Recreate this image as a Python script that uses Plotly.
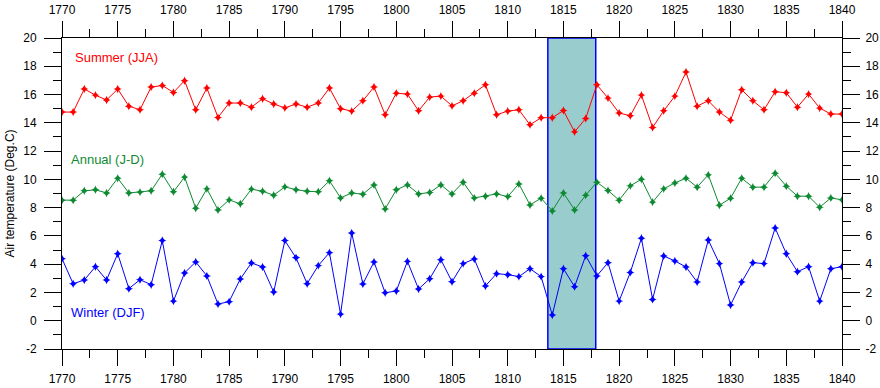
import plotly.graph_objects as go

years = list(range(1770, 1841))

summer = [14.76, 14.76, 16.39, 15.96, 15.61, 16.39, 15.18, 14.92, 16.53, 16.64,
          16.15, 16.98, 14.92, 16.46, 14.38, 15.40, 15.40, 15.11, 15.70, 15.33,
          15.06, 15.33, 15.11, 15.40, 16.46, 15.00, 14.83, 15.56, 16.53, 14.57,
          16.10, 16.03, 14.85, 15.82, 15.89, 15.20, 15.56, 16.10, 16.69, 14.57,
          14.83, 14.92, 13.86, 14.36, 14.36, 14.87, 13.36, 14.31, 16.69, 15.75,
          14.69, 14.50, 15.96, 13.67, 14.85, 15.89, 17.59, 15.18, 15.56, 14.76,
          14.19, 16.34, 15.56, 14.92, 16.20, 16.13, 15.11, 16.03, 15.04, 14.62,
          14.62]

annual = [8.53, 8.53, 9.19, 9.26, 9.04, 10.08, 9.04, 9.10, 9.19, 10.37,
          9.12, 10.16, 7.96, 9.33, 7.84, 8.55, 8.27, 9.31, 9.16, 8.88,
          9.47, 9.27, 9.16, 9.12, 9.90, 8.69, 9.04, 8.95, 9.61, 7.91,
          9.26, 9.61, 8.97, 9.07, 9.61, 8.97, 9.80, 8.69, 8.81, 8.97,
          8.78, 9.68, 8.19, 8.67, 7.77, 9.04, 7.84, 8.88, 9.80, 9.21,
          8.53, 9.54, 10.01, 8.39, 9.33, 9.75, 10.08, 9.45, 10.32, 8.17,
          8.67, 10.08, 9.45, 9.45, 10.44, 9.52, 8.81, 8.81, 8.03, 8.69,
          8.55]

winter = [4.39, 2.62, 2.88, 3.82, 2.88, 4.74, 2.27, 2.90, 2.55, 5.67,
          1.39, 3.38, 4.16, 3.17, 1.18, 1.35, 2.95, 4.09, 3.80, 2.03,
          5.67, 4.45, 2.62, 3.90, 4.82, 0.47, 6.21, 2.60, 4.16, 1.98,
          2.10, 4.20, 2.24, 2.97, 4.32, 2.76, 4.04, 4.37, 2.46, 3.33,
          3.26, 3.12, 3.68, 3.12, 0.40, 3.68, 2.41, 4.60, 3.17, 4.11,
          1.39, 3.42, 5.83, 1.51, 4.58, 4.23, 3.80, 2.74, 5.71, 4.04,
          1.11, 2.74, 4.11, 4.04, 6.56, 4.74, 3.47, 3.82, 1.39, 3.68,
          3.82]

x_ticks = [1770, 1775, 1780, 1785, 1790, 1795, 1800, 1805, 1810, 1815,
           1820, 1825, 1830, 1835, 1840]
y_ticks = [-2, 0, 2, 4, 6, 8, 10, 12, 14, 16, 18, 20]
y_tick_labels = ["-2", "0", "2", "4", "6", "8", "10", "12", "14", "16", "18", "20"]
x_range = [1770, 1840]
y_range = [-2, 20]
shade_years = [1813.6, 1817.9]

series = [
    ("Summer (JJA)", summer, "#FF0000", 1770.95, 18.63),
    ("Annual (J-D)", annual, "#0E8A32", 1770.65, 11.43),
    ("Winter (DJF)", winter, "#0000FF", 1770.6, 0.55),
]

FONT = "Liberation Sans, Arial, sans-serif"

fig = go.Figure()
annotations = []
for name, vals, color, lx, ly in series:
    fig.add_trace(go.Scatter(
        x=years, y=vals, mode="lines+markers", name=name,
        line=dict(color=color, width=1),
        marker=dict(symbol="star-diamond", size=6, color=color, line=dict(width=0)),
        showlegend=False, hoverinfo="x+y",
    ))
    annotations.append(dict(
        x=lx, y=ly, xref="x", yref="y", text=name, showarrow=False,
        xanchor="left", yanchor="middle",
        font=dict(family=FONT, size=13, color=color),
    ))

# dummy trace to activate the mirrored axes with labels
fig.add_trace(go.Scatter(x=x_range, y=y_range, xaxis="x2", yaxis="y2",
                         mode="markers", marker=dict(opacity=0),
                         showlegend=False, hoverinfo="skip"))

annotations.append(dict(
    x=0, y=0.5, xref="paper", yref="paper", text="Air temperature (Deg.C)",
    showarrow=False, textangle=-90, xanchor="center", yanchor="middle",
    xshift=-53, font=dict(family=FONT, size=12, color="black"),
))

fig.add_shape(type="rect", xref="x", yref="y",
              x0=shade_years[0], x1=shade_years[1], y0=y_range[0], y1=y_range[1],
              fillcolor="#99CCCC", line=dict(color="#0000FF", width=1.5),
              layer="below")

axis_common = dict(
    showgrid=False, zeroline=False, showline=True, linecolor="black",
    linewidth=1, ticks="outside", tickcolor="black", tickwidth=1,
    automargin=False,
    tickfont=dict(family=FONT, size=12, color="black"),
)

xminor = dict(dtick=2.5, tick0=1770, ticks="outside", ticklen=8,
              tickcolor="black", tickwidth=1)
yminor = dict(dtick=1, tick0=0, ticks="outside", ticklen=8,
              tickcolor="black", tickwidth=1)

fig.update_layout(
    width=880, height=388,
    margin=dict(l=62, r=38, t=38, b=39, autoexpand=False),
    paper_bgcolor="white", plot_bgcolor="white",
    font=dict(family=FONT, size=12, color="black"),
    xaxis=dict(range=x_range, tickvals=x_ticks, ticklen=16, minor=xminor,
               ticklabelstandoff=3, **axis_common),
    xaxis2=dict(range=x_range, tickvals=x_ticks, ticklen=16, side="top",
                overlaying="x", minor=xminor, ticklabelstandoff=2,
                **axis_common),
    yaxis=dict(range=y_range, tickvals=y_ticks, ticktext=y_tick_labels,
               ticklen=17, minor=yminor, ticklabelstandoff=5, **axis_common),
    yaxis2=dict(range=y_range, tickvals=y_ticks, ticktext=y_tick_labels,
                ticklen=17, side="right", overlaying="y", minor=yminor,
                ticklabelstandoff=3, **axis_common),
    annotations=annotations,
)

fig.write_html(
    "out.html",
    config={"displayModeBar": False},
    post_script="document.body.style.margin='0';document.body.style.padding='0';"
                "document.body.style.overflow='hidden';",
)
